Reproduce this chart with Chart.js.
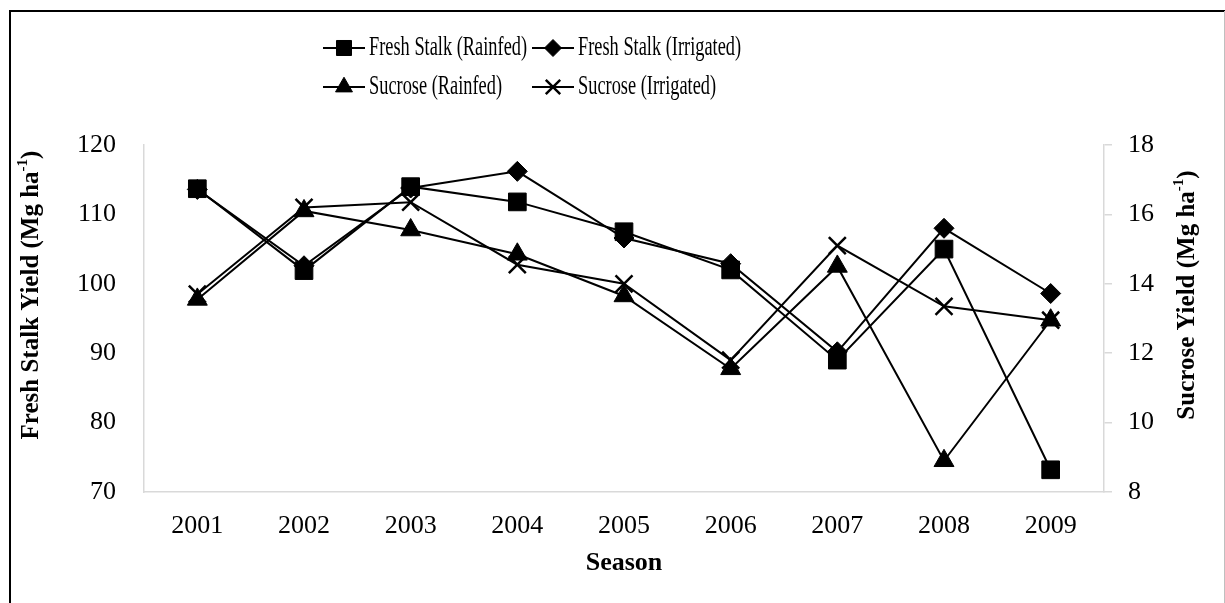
<!DOCTYPE html>
<html>
<head>
<meta charset="utf-8">
<script src="https://cdn.jsdelivr.net/npm/chart.js@4.4.1/dist/chart.umd.min.js"></script>
<style>
  html, body { margin: 0; padding: 0; background: #fff; }
  #wrap { width: 1225px; height: 603px; }
</style>
</head>
<body>
<div id="wrap"><canvas id="myChart" width="1225" height="603"></canvas></div>
<script>
//---------- data ----------
const seasons = ['2001', '2002', '2003', '2004', '2005', '2006', '2007', '2008', '2009'];
const freshRainfed = [113.7, 101.9, 114.0, 111.8, 107.5, 102.0, 89.0, 105.0, 73.2];
const freshIrrigated = [113.6, 102.6, 113.8, 116.2, 106.6, 102.9, 90.2, 108.0, 98.6];
const sucroseRainfed = [13.55, 16.1, 15.55, 14.85, 13.65, 11.55, 14.5, 8.9, 12.95];
const sucroseIrrigated = [13.7, 16.2, 16.35, 14.55, 14.0, 11.8, 15.1, 13.35, 12.95];
const leftTicks = [70, 80, 90, 100, 110, 120];
const rightTicks = [8, 10, 12, 14, 16, 18];
const seriesNames = ['Fresh Stalk (Rainfed)', 'Fresh Stalk (Irrigated)', 'Sucrose (Rainfed)', 'Sucrose (Irrigated)'];

const serif = '"Liberation Serif", "Times New Roman", serif';
const axisGray = '#d9d9d9';

function lineSet(label, data, axis, style, radius, extra) {
  return Object.assign({
    label: label,
    data: data,
    yAxisID: axis,
    borderColor: '#000',
    backgroundColor: '#000',
    borderWidth: 2,
    pointStyle: style,
    pointRadius: radius,
    pointBorderWidth: 1,
    pointBackgroundColor: '#000',
    pointBorderColor: '#000',
    tension: 0,
    clip: false
  }, extra || {});
}

const datasets = [
  lineSet(seriesNames[0], freshRainfed, 'y', 'rect', 12.5),
  lineSet(seriesNames[1], freshIrrigated, 'y', 'rectRot', 10),
  lineSet(seriesNames[2], sucroseRainfed, 'y1', 'triangle', 11.5),
  lineSet(seriesNames[3], sucroseIrrigated, 'y1', 'crossRot', 12, {pointBorderWidth: 2.5})
];

//---------- custom legend, titles and frame ----------
function drawVTitle(ctx, cx, cy, main, sup, tail) {
  const f = 'bold 25px ' + serif, fs = 'bold 15px ' + serif;
  ctx.save();
  ctx.translate(cx, cy);
  ctx.rotate(-Math.PI / 2);
  ctx.fillStyle = '#000';
  ctx.textBaseline = 'middle';
  ctx.textAlign = 'left';
  ctx.font = f; const w1 = ctx.measureText(main).width; const w3 = ctx.measureText(tail).width;
  ctx.font = fs; const w2 = ctx.measureText(sup).width;
  let x = -(w1 + w2 + w3) / 2;
  ctx.font = f; ctx.fillText(main, x, 0); x += w1;
  ctx.font = fs; ctx.fillText(sup, x, -9); x += w2;
  ctx.font = f; ctx.fillText(tail, x, 0);
  ctx.restore();
}

const extrasPlugin = {
  id: 'extras',
  afterDraw(chart) {
    const ctx = chart.ctx;
    ctx.save();
    // outer frame
    ctx.strokeStyle = '#000';
    ctx.lineWidth = 2;
    ctx.beginPath();
    ctx.moveTo(10, 603); ctx.lineTo(10, 11); ctx.lineTo(1225, 11);
    ctx.stroke();
    ctx.strokeStyle = '#bfbfbf';
    ctx.lineWidth = 1;
    ctx.beginPath(); ctx.moveTo(1224.5, 11); ctx.lineTo(1224.5, 603); ctx.stroke();

    // legend in two aligned columns
    const rowY = [48, 87];
    const colX = [323, 532];
    const lineLen = 42;
    ctx.font = '27px ' + serif;
    ctx.textBaseline = 'middle';
    ctx.textAlign = 'left';
    chart.data.datasets.forEach((ds, i) => {
      const x0 = colX[i % 2], y = rowY[Math.floor(i / 2)];
      ctx.strokeStyle = '#000';
      ctx.lineWidth = 2;
      ctx.beginPath(); ctx.moveTo(x0, y); ctx.lineTo(x0 + lineLen, y); ctx.stroke();
      ctx.fillStyle = '#000';
      ctx.lineWidth = ds.pointBorderWidth;
      Chart.helpers.drawPoint(ctx, {pointStyle: ds.pointStyle, radius: ds.pointRadius * 0.85, rotation: 0, borderWidth: ds.pointBorderWidth}, x0 + lineLen / 2, y);
      ctx.fillStyle = '#000';
      ctx.save();
      ctx.translate(x0 + lineLen + 4, y);
      ctx.scale(0.68, 1);
      ctx.fillText(ds.label, 0, 0);
      ctx.restore();
    });

    // axis titles with superscript
    drawVTitle(ctx, 32, 295, 'Fresh Stalk Yield (Mg ha', '-1', ')');
    drawVTitle(ctx, 1188, 295, 'Sucrose Yield (Mg ha', '-1', ')');
    ctx.restore();
  }
};

const ctx = document.getElementById('myChart');
const chart = new Chart(ctx, {
  type: 'line',
  data: { labels: seasons, datasets: datasets },
  options: {
    responsive: false,
    animation: false,
    layout: { padding: { top: 145, left: 0, right: 0, bottom: 0 } },
    plugins: {
      legend: { display: false },
      tooltip: { enabled: false }
    },
    scales: {
      x: {
        offset: true,
        grid: { display: false, drawTicks: false },
        border: { display: true, color: axisGray, width: 1.5 },
        ticks: { color: '#000', font: { family: serif, size: 26 }, padding: 19, maxRotation: 0, autoSkip: false },
        title: { display: true, text: 'Season', color: '#000', font: { family: serif, size: 26, weight: 'bold' }, padding: { top: 0, bottom: 24 } },
        afterFit: s => { s.height = 111; }
      },
      y: {
        position: 'left',
        min: leftTicks[0],
        max: leftTicks[leftTicks.length - 1],
        grid: { display: false, drawTicks: false },
        border: { display: true, color: axisGray, width: 1.5 },
        ticks: { stepSize: leftTicks[1] - leftTicks[0], color: '#000', font: { family: serif, size: 26 }, padding: 28 },
        afterFit: s => { s.width = 144; }
      },
      y1: {
        position: 'right',
        min: rightTicks[0],
        max: rightTicks[rightTicks.length - 1],
        grid: { display: true, drawOnChartArea: false, drawTicks: true, tickLength: 8, color: axisGray, lineWidth: 1.5 },
        border: { display: true, color: axisGray, width: 1.5 },
        ticks: { stepSize: rightTicks[1] - rightTicks[0], color: '#000', font: { family: serif, size: 26 }, padding: 16 },
        afterFit: s => { s.width = 121; }
      }
    }
  },
  plugins: [extrasPlugin]
});
</script>
</body>
</html>
